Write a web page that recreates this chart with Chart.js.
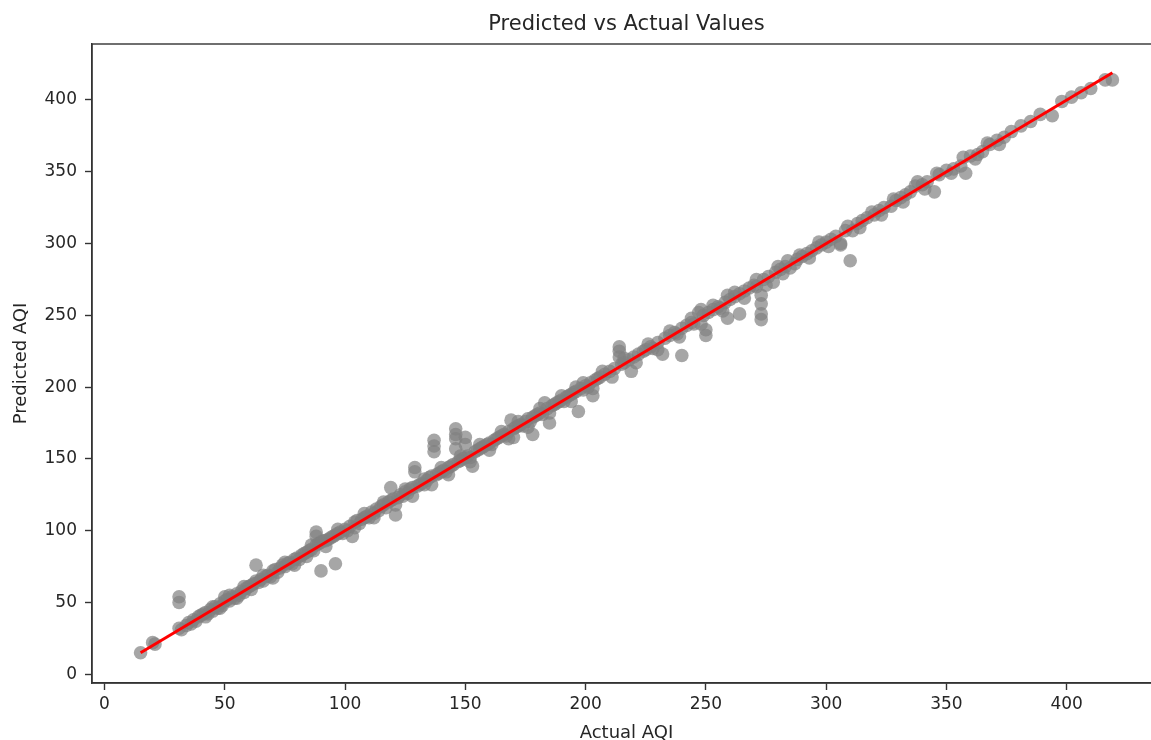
<!DOCTYPE html>
<html>
<head>
<meta charset="utf-8">
<title>Predicted vs Actual Values</title>
<script src="https://cdn.jsdelivr.net/npm/chart.js@4.4.1/dist/chart.umd.min.js"></script>
<style>
    html, body { margin: 0; padding: 0; background: #ffffff; overflow: hidden; }
    #wrap { width: 1175px; height: 760px; }
</style>
</head>
<body>
<div id="wrap"><canvas id="aqiChart" width="1175" height="760"></canvas></div>
<script>
// ======================================================================
//  1. DONNÉES
// ======================================================================

const actualAQI = [
    15, 20, 21, 31, 31, 31, 32, 34, 35, 36, 37, 38, 39, 40, 41, 42, 43, 44, 45, 46,
    47, 48, 49, 50, 50, 51, 52, 53, 54, 55, 56, 57, 58, 59, 60, 61, 62, 63, 63, 64,
    65, 66, 67, 68, 69, 70, 71, 72, 73, 74, 75, 76, 77, 78, 79, 80, 81, 82, 83, 84,
    85, 86, 87, 88, 88, 88, 89, 90, 90, 91, 92, 93, 94, 95, 96, 96, 97, 98, 99, 100,
    101, 102, 103, 104, 105, 106, 107, 108, 109, 110, 111, 112, 113, 114, 115, 116, 117, 118, 119, 119,
    120, 121, 122, 123, 124, 125, 126, 127, 128, 129, 129, 130, 131, 132, 133, 134, 135, 136, 137, 137,
    137, 138, 139, 140, 141, 142, 143, 144, 145, 146, 146, 146, 146, 147, 148, 149, 150, 150, 150, 151,
    152, 153, 154, 155, 156, 157, 158, 159, 160, 161, 162, 163, 164, 165, 166, 167, 168, 169, 170, 170,
    171, 172, 173, 174, 175, 176, 177, 178, 178, 179, 180, 181, 182, 183, 184, 185, 186, 187, 188, 189,
    190, 191, 192, 193, 194, 195, 196, 196, 197, 198, 199, 200,
    201, 202, 203, 204, 205, 206, 208, 210, 212, 214, 214, 214, 215, 216, 218, 219, 220, 222, 224, 225,
    227, 228, 230, 232, 233, 235, 237, 238, 240, 240, 242, 244, 245, 247, 248, 249, 250, 250, 251, 253,
    255, 256, 258, 259, 259, 260, 262, 264, 264, 266, 268, 270, 271, 273, 273, 273, 273, 274, 276, 278,
    279, 281, 283, 284, 285, 287, 288, 290, 292, 294, 296, 298,
    300, 302, 304, 306, 306, 308, 310, 311, 313, 315, 317, 320, 322, 324, 327, 329, 331, 333, 335, 338,
    340, 342, 345, 347, 350, 353, 356, 358, 360, 363, 365, 368, 371, 374, 377, 381, 385, 389, 394, 398,
    402, 406, 410, 416, 419,
    // points proches de la diagonale (épaisseur du nuage)
    42, 45, 48, 52, 55, 58, 61, 66, 70, 75, 79, 84, 86, 92, 97, 104, 108, 112, 116, 121,
    125, 128, 133, 136, 140, 143, 148, 152, 156, 160, 165, 168, 172, 176, 181, 185, 190, 194, 199, 203,
    207, 211, 216, 221, 226, 230, 235, 239, 244, 248, 253, 257, 262, 266, 271, 275, 280, 282, 289, 293,
    297, 301, 309, 314, 319, 323, 328, 332, 337, 341, 346, 352, 357, 362, 367, 372
];

const predictedAQI = [
    15, 22, 21, 54, 50, 32, 31, 34, 36, 35, 38, 37, 40, 41, 42, 43, 42, 45, 44, 47,
    46, 49, 48, 54, 51, 52, 51, 54, 53, 56, 55, 58, 57, 60, 61, 62, 63, 76, 65, 64,
    66, 65, 68, 69, 68, 72, 73, 71, 74, 76, 75, 77, 78, 77, 80, 81, 80, 83, 84, 85,
    86, 87, 86, 99, 96, 90, 91, 72, 92, 93, 93, 94, 95, 96, 77, 97, 98, 99, 98, 101,
    100, 103, 96, 106, 107, 105, 108, 109, 110, 109, 113, 112, 115, 114, 117, 118, 116, 120, 130, 121,
    122, 111, 123, 125, 124, 127, 126, 129, 130, 144, 141, 131, 132, 133, 132, 135, 137, 138, 163, 159,
    155, 139, 140, 141, 142, 141, 144, 145, 146, 171, 167, 164, 157, 148, 149, 150, 165, 160, 151, 152,
    151, 145, 155, 156, 157, 158, 159, 160, 161, 160, 163, 164, 165, 166, 167, 166, 169, 177, 165, 171,
    172, 173, 174, 173, 176, 178, 176, 167, 179, 180, 181, 182, 181, 189, 185, 175, 187, 188, 189, 190,
    191, 190, 193, 194, 195, 196, 200, 197, 183, 199, 198, 201,
    200, 203, 194, 205, 206, 207, 209, 211, 213, 228, 225, 221, 216, 217, 219, 211, 221, 223, 225, 226,
    228, 227, 231, 223, 234, 236, 238, 237, 222, 241, 243, 245, 244, 252, 254, 250, 240, 236, 252, 254,
    256, 255, 259, 248, 264, 261, 263, 251, 265, 267, 269, 271, 270, 264, 258, 251, 247, 275, 277, 273,
    280, 282, 284, 288, 283, 286, 289, 291, 293, 295, 297, 299,
    301, 303, 305, 299, 300, 309, 288, 309, 314, 316, 318, 320, 323, 325, 326, 330, 332, 334, 336, 343,
    341, 343, 336, 348, 351, 352, 354, 349, 361, 362, 364, 369, 372, 374, 378, 382, 385, 390, 389, 399,
    402, 405, 408, 414, 414,
    // points proches de la diagonale (épaisseur du nuage)
    40, 47, 46, 55, 53, 61, 59, 69, 67, 78, 76, 82, 90, 89, 101, 102, 112, 109, 120, 118,
    129, 124, 136, 132, 144, 139, 152, 148, 160, 156, 169, 164, 176, 172, 185, 182, 194, 190, 203, 199,
    211, 207, 220, 217, 230, 226, 239, 235, 248, 244, 257, 253, 266, 262, 275, 271, 284, 279, 292, 290,
    301, 298, 312, 311, 322, 320, 331, 329, 340, 338, 349, 349, 360, 359, 370, 369
];

// Droite de référence (valeur prédite = valeur réelle)
const refLineX = [15, 419];

// Graduations des axes
const xTickValues = [0, 50, 100, 150, 200, 250, 300, 350, 400];
const yTickValues = [0, 50, 100, 150, 200, 250, 300, 350, 400];

// ======================================================================
//  2. CONSTRUCTION DES SÉRIES
// ======================================================================

const scatterPoints = actualAQI.map((x, i) => ({ x: x, y: predictedAQI[i] }));
const linePoints = refLineX.map(v => ({ x: v, y: v }));

const FONT = "'DejaVu Sans', 'Liberation Sans', sans-serif";
const TEXT_COLOR = "#262626";
const SPINE_COLOR = "#333333";

// Cadre complet autour de la zone du graphique (style matplotlib)
const framePlugin = {
    id: "frame",
    afterDraw(chart) {
        const { ctx, chartArea: a } = chart;
        ctx.save();
        ctx.strokeStyle = SPINE_COLOR;
        ctx.lineWidth = 1.4;
        ctx.strokeRect(a.left, a.top, a.right - a.left, a.bottom - a.top);
        ctx.restore();
    }
};

// ======================================================================
//  3. RENDU DU GRAPHIQUE
// ======================================================================

const ctx = document.getElementById("aqiChart").getContext("2d");

new Chart(ctx, {
    type: "scatter",
    data: {
        datasets: [
            {
                label: "Idéal",
                data: linePoints,
                showLine: true,
                borderColor: "#ff0000",
                borderWidth: 3,
                pointRadius: 0,
                order: 0
            },
            {
                label: "Prédictions",
                data: scatterPoints,
                backgroundColor: "rgba(128, 128, 128, 0.7)",
                borderWidth: 0,
                pointRadius: 6.8,
                order: 1
            }
        ]
    },
    options: {
        responsive: false,
        animation: false,
        layout: { padding: { left: 0, right: 14, top: 0, bottom: 0 } },
        plugins: {
            legend: { display: false },
            tooltip: { enabled: false },
            title: {
                display: true,
                text: "Predicted vs Actual Values",
                fullSize: false,
                color: TEXT_COLOR,
                font: { family: FONT, size: 21, weight: "normal", lineHeight: 1.2 },
                padding: { top: 12.4, bottom: 6.4 }
            }
        },
        scales: {
            x: {
                type: "linear",
                min: -5.2,
                max: 439.2,
                afterBuildTicks: s => { s.ticks = xTickValues.map(v => ({ value: v })); },
                afterFit: s => { s.height = 77; },
                ticks: {
                    color: TEXT_COLOR,
                    font: { family: FONT, size: 17 },
                    padding: 4,
                    maxRotation: 0,
                    includeBounds: false
                },
                grid: {
                    drawOnChartArea: false,
                    drawTicks: true,
                    tickLength: 7,
                    tickWidth: 1.4,
                    tickColor: SPINE_COLOR
                },
                border: { display: true, color: SPINE_COLOR, width: 1.4 },
                title: {
                    display: true,
                    text: "Actual AQI",
                    color: TEXT_COLOR,
                    font: { family: FONT, size: 18 },
                    padding: { top: 0, bottom: 16 }
                }
            },
            y: {
                type: "linear",
                min: -6.1,
                max: 439,
                afterBuildTicks: s => { s.ticks = yTickValues.map(v => ({ value: v })); },
                afterFit: s => { s.width = 92; },
                ticks: {
                    color: TEXT_COLOR,
                    font: { family: FONT, size: 17 },
                    padding: 8,
                    includeBounds: false
                },
                grid: {
                    drawOnChartArea: false,
                    drawTicks: true,
                    tickLength: 7,
                    tickWidth: 1.4,
                    tickColor: SPINE_COLOR
                },
                border: { display: true, color: SPINE_COLOR, width: 1.4 },
                title: {
                    display: true,
                    text: "Predicted AQI",
                    color: TEXT_COLOR,
                    font: { family: FONT, size: 18 },
                    padding: { top: 11, bottom: 0 }
                }
            }
        }
    },
    plugins: [framePlugin]
});
</script>
</body>
</html>
